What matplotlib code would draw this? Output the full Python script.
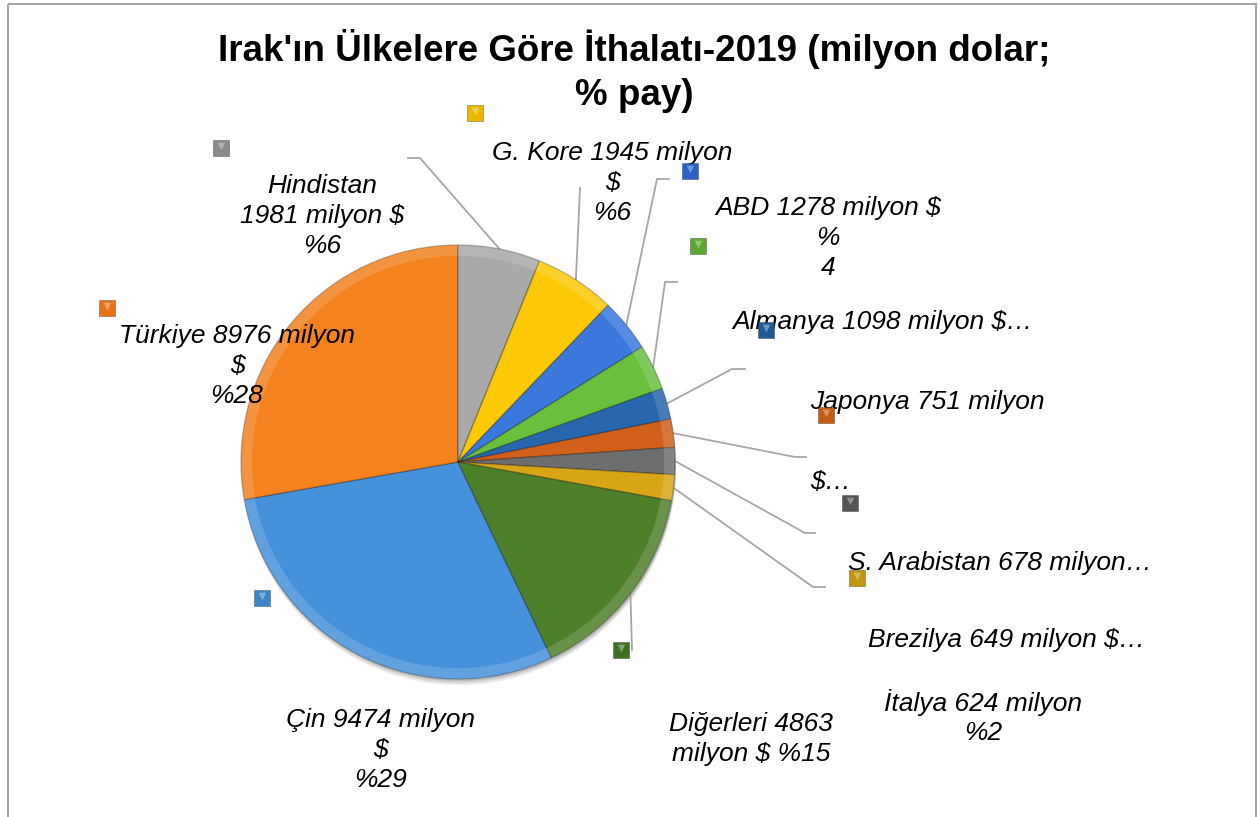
import numpy as np
import matplotlib.pyplot as plt
from matplotlib.patches import Rectangle

plt.rcParams['font.family'] = ['Liberation Sans', 'DejaVu Sans']

# data
countries = ["Çin", "Türkiye", "Hindistan", "G. Kore", "ABD", "Almanya",
             "Japonya", "S. Arabistan", "Brezilya", "İtalya", "Diğerleri"]
values = [9474, 8976, 1981, 1945, 1278, 1098, 751, 678, 649, 624, 4863]
slice_colors = ["#4691db", "#f4821f", "#a9a9a9", "#fdc907", "#3a78dc", "#6abf3c",
                "#2866ad", "#d0601a", "#6e6e6e", "#d7a516", "#4e7f2b"]

# data labels as they appear (some cut off by the chart)
label_texts = ["Çin 9474 milyon\n$\n%29",
               "Türkiye 8976 milyon\n$\n%28",
               "Hindistan\n1981 milyon $\n%6",
               "G. Kore 1945 milyon\n$\n%6",
               "ABD 1278 milyon $\n%\n4",
               "Almanya 1098 milyon $…",
               "Japonya 751 milyon",
               "S. Arabistan 678 milyon…",
               "Brezilya 649 milyon $…",
               "İtalya 624 milyon\n%2",
               "Diğerleri 4863\nmilyon $ %15"]

# label layout (pixel coords: x, y, horizontal alignment)
label_pos = [(380, 750, "center"), (237, 366, "center"), (322, 216, "center"),
             (612, 183, "center"), (828, 238, "center"), (883, 322, "center"),
             (810, 402, "left"), (848, 563, "left"), (1007, 640, "center"),
             (983, 717, "center"), (751, 739, "center")]

# leader line elbows (None = no line)
leader_pts = [None, None, [(420, 158), (408, 158)], [(580, 188)],
              [(657, 179), (669, 179)], [(665, 282), (677, 282)],
              [(732, 369), (745, 369)], [(795, 457), (806, 457)],
              [(805, 533), (815, 533)], [(813, 587), (825, 587)],
              [(632, 650)]]

# small legend keys beside labels
key_xy = [(107, 308), (262, 598), (621, 650), (221, 148), (475, 113), (690, 171),
          (698, 246), (766, 330), (826, 415), (850, 503), (857, 578)]
key_colors = ["#e8711a", "#3c86c9", "#3f6f22", "#8a8a8a", "#e6b800", "#2c62c8",
              "#5aa832", "#1f5a96", "#c55a11", "#555555", "#c0960f"]

cx, cy, r = 458, 462, 217

fig = plt.figure(figsize=(12.58, 8.17), dpi=100)
ax = fig.add_axes([0, 0, 1, 1])

# soft shadow
for k, a in zip([6, 4, 2], [0.08, 0.1, 0.12]):
    ax.add_patch(plt.Circle((cx + 1, cy + k), r, color="#000000", alpha=a, lw=0, zorder=0))

start = -(90 + 360 * (values[0] + values[1]) / sum(values))
wedges, _ = ax.pie(values, colors=slice_colors, startangle=start, counterclock=True,
                   center=(cx, cy), radius=r,
                   wedgeprops=dict(edgecolor="#00000040", linewidth=1.0, zorder=2))
# bevel-ish rim
rim = ax.pie(values, colors=["white"] * len(values), startangle=start, counterclock=True,
             center=(cx, cy), radius=r,
             wedgeprops=dict(width=0.05 * r, alpha=0.15, linewidth=0, zorder=3))

ax.set_xlim(0, 1258)
ax.set_ylim(817, 0)
ax.set_aspect("auto")
ax.axis("off")

for w, txt, (x, y, ha), pts in zip(wedges, label_texts, label_pos, leader_pts):
    ax.text(x, y, txt, ha=ha, va="center", fontsize=19, style="italic",
            linespacing=1.3, color="black", zorder=4)
    if pts is not None:
        mid = np.deg2rad((w.theta1 + w.theta2) / 2)
        xs = [cx + r * np.cos(mid)] + [p[0] for p in pts]
        ys = [cy + r * np.sin(mid)] + [p[1] for p in pts]
        ax.plot(xs, ys, color="#a6a6a6", lw=1.3, zorder=1)

ax.text(810, 482, "$…", ha="left", va="center", fontsize=19, style="italic", zorder=4)

ax.scatter([p[0] for p in key_xy], [p[1] for p in key_xy], marker="s", s=120,
           c=key_colors, edgecolors="#00000050", linewidths=0.6, zorder=5)
ax.scatter([p[0] for p in key_xy], [p[1] - 2 for p in key_xy], marker="v", s=30,
           c="white", alpha=0.35, linewidths=0, zorder=6)

ax.text(634, 71, "Irak'ın Ülkelere Göre İthalatı-2019 (milyon dolar;\n% pay)",
        ha="center", va="center", fontsize=26.5, fontweight="bold", linespacing=1.3)

ax.add_patch(Rectangle((8, 4), 1248, 900, fill=False, edgecolor="#a6a6a6", lw=1.5))

fig.savefig("out.png", dpi=100)
